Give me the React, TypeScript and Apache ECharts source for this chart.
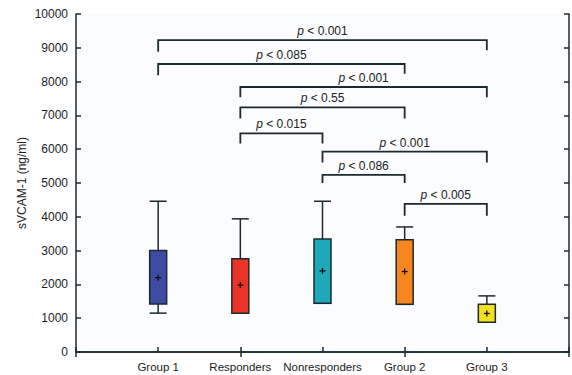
import React, { useEffect, useRef } from "react";
import * as echarts from "echarts";

const categories = ["Group 1", "Responders", "Nonresponders", "Group 2", "Group 3"];
const whiskerLow = [1150, 1150, 1440, 1410, 880];
const quartile1 = [1420, 1150, 1440, 1410, 880];
const quartile3 = [3000, 2760, 3340, 3320, 1410];
const whiskerHigh = [4460, 3940, 4460, 3700, 1660];
const means = [2200, 1980, 2400, 2380, 1140];
const boxColors = ["#3d4ca3", "#ec3327", "#1fa9b8", "#f7861f", "#f1e21c"];

const bracketFrom = [0, 0, 1, 1, 1, 2, 2, 3];
const bracketTo = [4, 3, 4, 3, 2, 4, 3, 4];
const bracketLevel = [9230, 8520, 7840, 7240, 6470, 5930, 5240, 4380];
const bracketLegLeft = [8880, 8190, 7540, 6910, 6170, 5610, 5000, 4030];
const bracketLegRight = [8930, 8230, 7540, 6910, 6170, 5610, 5000, 4030];
const pValues = ["0.001", "0.085", "0.001", "0.55", "0.015", "0.001", "0.086", "0.005"];

const yTicks = { min: 0, max: 10000, interval: 1000 };

const INK = "#1c2a30";
const FONT = "'Liberation Sans', Arial, sans-serif";

export default function App() {
  const ref = useRef<HTMLDivElement>(null);
  useEffect(() => {
    if (!ref.current) return;
    const chart = echarts.init(ref.current, null, { renderer: "svg" });
    const xData = ["", ...categories, ""];
    const boxData = categories.map((_, i) => [
      i + 1,
      whiskerLow[i],
      quartile1[i],
      quartile3[i],
      whiskerHigh[i],
      means[i],
    ]);
    const bracketData = bracketFrom.map((f, i) => [
      f + 1,
      bracketTo[i] + 1,
      bracketLevel[i],
      bracketLegLeft[i],
      bracketLegRight[i],
      i,
    ]);
    const axisLine = { show: true, lineStyle: { color: INK, width: 1.5 } };
    chart.setOption({
      animation: false,
      backgroundColor: "#ffffff",
      textStyle: { fontFamily: FONT },
      grid: { left: 76, right: 3, top: 14, bottom: 23, show: true, backgroundColor: "#fbfcfe", borderWidth: 0 },
      xAxis: [
        {
          type: "category",
          data: xData,
          boundaryGap: false,
          position: "bottom",
          axisLine,
          axisTick: { show: true, inside: true, length: 5, lineStyle: { color: INK, width: 1.5 } },
          axisLabel: { interval: 0, color: "#222", fontSize: 11.5, margin: 9, fontFamily: FONT },
          splitLine: { show: false },
        },
        {
          type: "category",
          data: xData,
          boundaryGap: false,
          position: "top",
          axisLine,
          axisTick: { show: true, inside: true, length: 5, lineStyle: { color: INK, width: 1.5 } },
          axisLabel: { show: false },
          splitLine: { show: false },
        },
      ],
      yAxis: [
        {
          type: "value",
          min: yTicks.min,
          max: yTicks.max,
          interval: yTicks.interval,
          position: "left",
          name: "sVCAM-1 (ng/ml)",
          nameLocation: "middle",
          nameGap: 48,
          nameMoveOverlap: false,
          nameTextStyle: { color: "#222", fontSize: 12, fontFamily: FONT },
          axisLine,
          axisTick: { show: true, inside: true, length: 5, lineStyle: { color: INK, width: 1.5 } },
          axisLabel: { color: "#222", fontSize: 12, margin: 8, fontFamily: FONT, formatter: (v: number) => String(v) },
          splitLine: { show: false },
        },
        {
          type: "value",
          min: yTicks.min,
          max: yTicks.max,
          interval: yTicks.interval,
          position: "right",
          axisLine,
          axisTick: { show: true, inside: true, length: 5, lineStyle: { color: INK, width: 1.5 } },
          axisLabel: { show: false },
          splitLine: { show: false },
        },
      ],
      series: [
        {
          type: "custom",
          xAxisIndex: 0,
          yAxisIndex: 0,
          data: boxData,
          encode: { x: 0, y: [1, 2, 3, 4, 5] },
          renderItem: (params: any, api: any) => {
            const x = api.value(0);
            const idx = params.dataIndex;
            const pLow = api.coord([x, api.value(1)]);
            const pQ1 = api.coord([x, api.value(2)]);
            const pQ3 = api.coord([x, api.value(3)]);
            const pHigh = api.coord([x, api.value(4)]);
            const pMean = api.coord([x, api.value(5)]);
            const cx = pQ1[0];
            const hw = 8.5;
            const lineStyle = { stroke: INK, lineWidth: 1.5, fill: null };
            return {
              type: "group",
              children: [
                { type: "line", shape: { x1: cx, y1: pQ3[1], x2: cx, y2: pHigh[1] }, style: lineStyle },
                { type: "line", shape: { x1: cx - hw, y1: pHigh[1], x2: cx + hw, y2: pHigh[1] }, style: lineStyle },
                { type: "line", shape: { x1: cx, y1: pQ1[1], x2: cx, y2: pLow[1] }, style: lineStyle },
                { type: "line", shape: { x1: cx - hw, y1: pLow[1], x2: cx + hw, y2: pLow[1] }, style: lineStyle },
                {
                  type: "rect",
                  shape: { x: cx - hw, y: pQ3[1], width: hw * 2, height: pQ1[1] - pQ3[1] },
                  style: { fill: boxColors[idx], stroke: INK, lineWidth: 1.5 },
                },
                { type: "line", shape: { x1: cx - 3, y1: pMean[1], x2: cx + 3, y2: pMean[1] }, style: { stroke: "#111", lineWidth: 1.3 } },
                { type: "line", shape: { x1: cx, y1: pMean[1] - 3, x2: cx, y2: pMean[1] + 3 }, style: { stroke: "#111", lineWidth: 1.3 } },
              ],
            };
          },
          z: 3,
        },
        {
          type: "custom",
          xAxisIndex: 0,
          yAxisIndex: 0,
          data: bracketData,
          encode: { x: [0, 1], y: [2, 3, 4] },
          renderItem: (params: any, api: any) => {
            const a = api.coord([api.value(0), api.value(2)]);
            const b = api.coord([api.value(1), api.value(2)]);
            const la = api.coord([api.value(0), api.value(3)]);
            const lb = api.coord([api.value(1), api.value(4)]);
            const i = api.value(5);
            return {
              type: "group",
              children: [
                {
                  type: "polyline",
                  shape: { points: [[a[0], la[1]], a, b, [b[0], lb[1]]] },
                  style: { stroke: INK, lineWidth: 1.8, fill: null },
                },
                {
                  type: "text",
                  x: (a[0] + b[0]) / 2,
                  y: a[1] - 3,
                  style: {
                    text: "{i|p} < " + pValues[i],
                    fill: "#222",
                    fontSize: 12,
                    fontFamily: FONT,
                    align: "center",
                    verticalAlign: "bottom",
                    rich: { i: { fontStyle: "italic", fontSize: 12, fontFamily: FONT, fill: "#222" } },
                  },
                },
              ],
            };
          },
          z: 4,
        },
      ],
    });
    return () => chart.dispose();
  }, []);
  return <div ref={ref} style={{ position: "fixed", left: 0, top: 0, width: 572, height: 375 }} />;
}
